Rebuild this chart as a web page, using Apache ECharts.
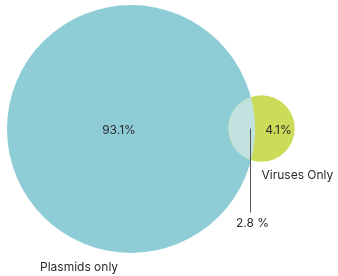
<!DOCTYPE html>
<html><head><meta charset="utf-8">
<script src="https://cdn.jsdelivr.net/npm/echarts@6/dist/echarts.min.js"></script>
<style>html,body{margin:0;padding:0;background:#fff}#c{width:338px;height:276px}</style>
</head><body><div id="c"></div>
<script>
// Set names and exclusive shares (%)
const setNames = ['Plasmids only', 'Viruses Only'];
const onlyShares = [93.1, 4.1];
const overlapShare = 2.8;
const shareLabels = ['93.1%', '4.1%', '2.8 %'];
const setColors = ['#8ecdd6', '#cbdc59'];
const overlapColor = '#c2e2e0';

// Layout (area-proportional circle sizes)
const bigRadius = 124;          // pixel radius of the larger set
const origin = [131, 129];      // centre of the larger set (axis units = px)
const centreGap = 130.5;        // distance between circle centres
const totals = [onlyShares[0] + overlapShare, onlyShares[1] + overlapShare];
const k = bigRadius / Math.sqrt(totals[0]);
const radii = totals.map(t => k * Math.sqrt(t));
const circles = [
  [origin[0], origin[1], radii[0]],
  [origin[0] + centreGap, origin[1] - 0.5, radii[1]]
];

const chart = echarts.init(document.getElementById('c'), null, {renderer: 'canvas'});
const font = 'Inter, "Noto Sans", sans-serif';
const textColor = '#2b2b2b';

function renderCircle(params, api) {
  const c = api.coord([api.value(0), api.value(1)]);
  const r = api.size([api.value(2), api.value(2)])[0];
  return {
    type: 'circle',
    shape: {cx: c[0], cy: c[1], r: r},
    style: {fill: setColors[params.dataIndex]}
  };
}

function renderOverlay(params, api) {
  const c1 = api.coord([circles[0][0], circles[0][1]]);
  const c2 = api.coord([circles[1][0], circles[1][1]]);
  const r1 = api.size([circles[0][2], 0])[0];
  const r2 = api.size([circles[1][2], 0])[0];
  const dx = c2[0] - c1[0], dy = c2[1] - c1[1];
  const d = Math.sqrt(dx * dx + dy * dy);
  const ux = dx / d, uy = dy / d;
  const a = (d * d + r1 * r1 - r2 * r2) / (2 * d);
  const h = Math.sqrt(r1 * r1 - a * a);
  const mx = c1[0] + a * ux, my = c1[1] + a * uy;
  const top = [mx + h * uy, my - h * ux], bot = [mx - h * uy, my + h * ux];
  const path = 'M' + top[0] + ' ' + top[1] +
    ' A' + r2 + ' ' + r2 + ' 0 0 0 ' + bot[0] + ' ' + bot[1] +
    ' A' + r1 + ' ' + r1 + ' 0 0 0 ' + top[0] + ' ' + top[1] + ' Z';
  const lx = Math.round(mx) - 0.5;
  const children = [
    {type: 'path', shape: {pathData: path}, style: {fill: overlapColor}},
    {type: 'line', shape: {x1: lx, y1: my, x2: lx, y2: my + 84},
      style: {stroke: '#555', lineWidth: 1}},
    {type: 'text', x: lx + 2, y: my + 95,
      style: {text: shareLabels[2], fill: textColor, font: '12px ' + font, align: 'center', verticalAlign: 'middle'}},
    // only-region labels
    {type: 'text', x: c1[0] - 12, y: c1[1] + 1,
      style: {text: shareLabels[0], fill: textColor, font: '12px ' + font, align: 'center', verticalAlign: 'middle'}},
    {type: 'text', x: c2[0] + 17, y: c2[1] + 1.5,
      style: {text: shareLabels[1], fill: textColor, font: '12px ' + font, align: 'center', verticalAlign: 'middle'}},
    // set names
    {type: 'text', x: c1[0] - 91, y: c1[1] + r1 + 14,
      style: {text: setNames[0], fill: textColor, font: '12px ' + font, align: 'left', verticalAlign: 'middle'}},
    {type: 'text', x: c2[0], y: c2[1] + r2 + 14,
      style: {text: setNames[1], fill: textColor, font: '12px ' + font, align: 'left', verticalAlign: 'middle'}}
  ];
  return {type: 'group', children: children};
}

chart.setOption({
  animation: false,
  grid: {left: 0, right: 0, top: 0, bottom: 0},
  xAxis: {type: 'value', min: 0, max: 338, show: false},
  yAxis: {type: 'value', min: 0, max: 276, inverse: true, show: false},
  series: [
    {type: 'custom', renderItem: renderCircle, data: circles, silent: true},
    {type: 'custom', renderItem: renderOverlay, data: [[0, 0]], silent: true}
  ]
});
</script></body></html>
